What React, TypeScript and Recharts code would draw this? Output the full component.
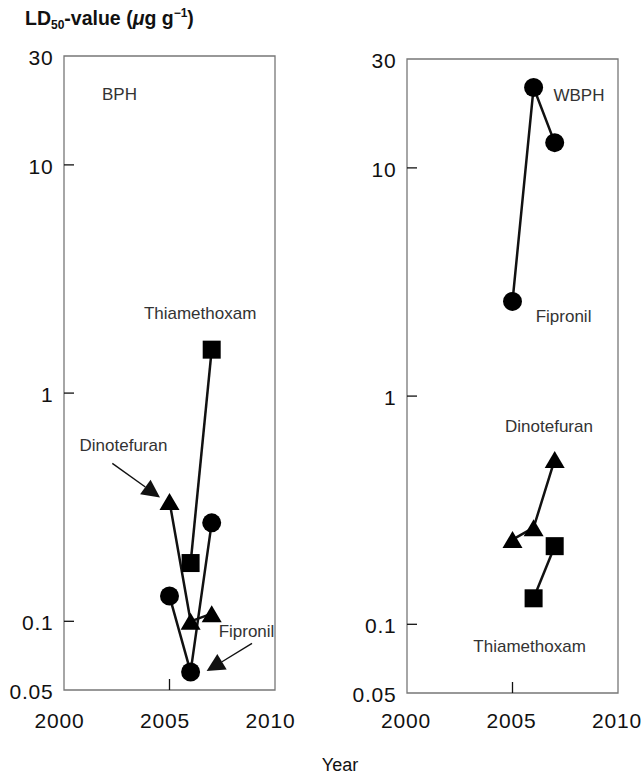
import React from 'react';
import { LineChart, Line, XAxis, YAxis, ReferenceArea, ReferenceDot, ReferenceLine } from 'recharts';

// years of measurement
const years3 = [2005, 2006, 2007];
const years2 = [2006, 2007];

// BPH LD50 values (ug/g)
const bphFipronil = [0.129, 0.06, 0.27];
const bphDinotefuran = [0.335, 0.1, 0.108];
const bphThiamethoxam = [0.18, 1.55];

// WBPH LD50 values (ug/g)
const wbphFipronil = [2.6, 22.5, 12.9];
const wbphDinotefuran = [0.235, 0.265, 0.527];
const wbphThiamethoxam = [0.13, 0.22];

const xTicks = [2000, 2005, 2010];
const yTicks = [0.05, 0.1, 1, 10, 30];

const FONT = '"Liberation Sans", Arial, sans-serif';

const toPoints = (years: number[], values: number[]) =>
  years.map((year, i) => ({ year, v: values[i] }));

type Shape = 'circle' | 'square' | 'triangle';

const Marker = ({ cx, cy, shape }: { cx?: number; cy?: number; shape: Shape }) => {
  if (cx == null || cy == null) return null;
  if (shape === 'circle') return <circle cx={cx} cy={cy} r={9.5} fill="#000" />;
  if (shape === 'square') return <rect x={cx - 9} y={cy - 9} width={18} height={18} fill="#000" />;
  return <polygon points={`${cx},${cy - 8.5} ${cx + 10},${cy + 8.5} ${cx - 10},${cy + 8.5}`} fill="#000" />;
};

const Arrow = (props: any) => {
  const { x1, y1, x2, y2 } = props;
  const a = Math.atan2(y2 - y1, x2 - x1);
  const len = 18;
  const hw = 9;
  const bx = x2 - len * Math.cos(a);
  const by = y2 - len * Math.sin(a);
  const px = -Math.sin(a) * hw;
  const py = Math.cos(a) * hw;
  return (
    <g>
      <line x1={x1} y1={y1} x2={bx} y2={by} stroke="#111" strokeWidth={1.4} />
      <polygon points={`${x2},${y2} ${bx + px},${by + py} ${bx - px},${by - py}`} fill="#111" />
    </g>
  );
};

const YTick = ({ x, y, payload }: any) => (
  <g>
    {[10, 1, 0.1].includes(payload.value) && (
      <line x1={x} y1={y} x2={x + 10} y2={y} stroke="#111" strokeWidth={1.3} />
    )}
    <text x={x - 10.5} y={y + 9} textAnchor="end" fontSize={21} letterSpacing={0.8} fill="#111" fontFamily={FONT}>
      {payload.value}
    </text>
  </g>
);

const makeXTick = (dx: number, dy: number) => ({ x, y, payload }: any) => (
  <g>
    {payload.value === 2005 && <line x1={x} y1={y} x2={x} y2={y - 11} stroke="#111" strokeWidth={1.3} />}
    <text x={x + dx} y={y + dy} textAnchor="middle" fontSize={21} letterSpacing={0.8} fill="#111" fontFamily={FONT}>
      {payload.value}
    </text>
  </g>
);

const Note = ({ cx, cy, text }: any) => (
  <text x={cx} y={cy + 6} textAnchor="middle" fontSize={17} fill="#333" fontFamily={FONT}>
    {text}
  </text>
);

interface Series { name: string; shape: Shape; data: { year: number; v: number }[] }
interface Panel {
  left: number;
  top: number;
  xdx: number;
  xdy: number;
  series: Series[];
  notes: { text: string; x: number; y: number }[];
  arrows: { from: [number, number]; to: [number, number] }[];
}

const panels: Panel[] = [
  {
    left: 0,
    top: 0,
    xdx: -4.5,
    xdy: 38,
    series: [
      { name: 'Thiamethoxam', shape: 'square', data: toPoints(years2, bphThiamethoxam) },
      { name: 'Dinotefuran', shape: 'triangle', data: toPoints(years3, bphDinotefuran) },
      { name: 'Fipronil', shape: 'circle', data: toPoints(years3, bphFipronil) },
    ],
    notes: [
      { text: 'BPH', x: 2002.63, y: 20.5 },
      { text: 'Thiamethoxam', x: 2006.45, y: 2.25 },
      { text: 'Dinotefuran', x: 2002.82, y: 0.591 },
      { text: 'Fipronil', x: 2008.65, y: 0.0908 },
    ],
    arrows: [
      { from: [2002.29, 0.492], to: [2004.55, 0.349] },
      { from: [2008.91, 0.08], to: [2006.76, 0.0605] },
    ],
  },
  {
    left: 343,
    top: 3,
    xdx: -1,
    xdy: 35,
    series: [
      { name: 'Fipronil', shape: 'circle', data: toPoints(years3, wbphFipronil) },
      { name: 'Dinotefuran', shape: 'triangle', data: toPoints(years3, wbphDinotefuran) },
      { name: 'Thiamethoxam', shape: 'square', data: toPoints(years2, wbphThiamethoxam) },
    ],
    notes: [
      { text: 'WBPH', x: 2008.15, y: 20.9 },
      { text: 'Fipronil', x: 2007.42, y: 2.24 },
      { text: 'Dinotefuran', x: 2006.73, y: 0.739 },
      { text: 'Thiamethoxam', x: 2005.81, y: 0.08 },
    ],
    arrows: [],
  },
];

const PanelChart = ({ panel }: { panel: Panel }) => (
  <div style={{ position: 'absolute', left: panel.left, top: panel.top }}>
    <LineChart width={300} height={740} margin={{ top: 56, right: 25, bottom: 0, left: 0 }}>
      <XAxis
        dataKey="year"
        type="number"
        domain={[2000, 2010]}
        ticks={xTicks}
        allowDataOverflow
        axisLine={false}
        tickLine={false}
        tickSize={0}
        tickMargin={0}
        height={50}
        interval={0}
        tick={makeXTick(panel.xdx, panel.xdy)}
      />
      <YAxis
        type="number"
        scale="log"
        domain={[0.05, 30]}
        ticks={yTicks}
        allowDataOverflow
        axisLine={false}
        tickLine={false}
        tickSize={0}
        tickMargin={0}
        width={64}
        interval={0}
        tick={YTick}
      />
      <ReferenceArea x1={2000} x2={2010} y1={0.05} y2={30} fill="none" stroke="#777" strokeWidth={1.3} ifOverflow="visible" />
      {panel.arrows.map((a, i) => (
        <ReferenceLine
          key={`arrow-${i}`}
          segment={[{ x: a.from[0], y: a.from[1] }, { x: a.to[0], y: a.to[1] }]}
          shape={Arrow}
        />
      ))}
      {panel.notes.map((n) => (
        <ReferenceDot
          key={n.text}
          x={n.x}
          y={n.y}
          r={0}
          shape={(p: any) => <Note cx={p.cx} cy={p.cy} text={n.text} />}
        />
      ))}
      {panel.series.map((s) => (
        <Line
          key={s.name}
          data={s.data}
          dataKey="v"
          name={s.name}
          type="linear"
          stroke="#111"
          strokeWidth={2.5}
          isAnimationActive={false}
          activeDot={false}
          dot={(p: any) => <Marker key={`${s.name}-${p.index}`} cx={p.cx} cy={p.cy} shape={s.shape} />}
        />
      ))}
    </LineChart>
  </div>
);

export default function App() {
  return (
    <div style={{ position: 'absolute', left: 0, top: 0, width: 644, height: 777, background: '#fff', fontFamily: FONT }}>
      <svg width={644} height={777} style={{ position: 'absolute', left: 0, top: 0 }}>
        <text x={25} y={24.5} fontSize={19.5} fontWeight="bold" fill="#111" fontFamily={FONT}>
          LD<tspan fontSize={12} dy={4}>50</tspan>
          <tspan dy={-4}>-value (</tspan>
          <tspan fontStyle="italic">μ</tspan>g g
          <tspan fontSize={12} dy={-8}>−1</tspan>
          <tspan dy={8}>)</tspan>
        </text>
        <text x={340} y={771} textAnchor="middle" fontSize={18} fill="#111" fontFamily={FONT}>
          Year
        </text>
      </svg>
      {panels.map((p, i) => (
        <PanelChart key={i} panel={p} />
      ))}
    </div>
  );
}
